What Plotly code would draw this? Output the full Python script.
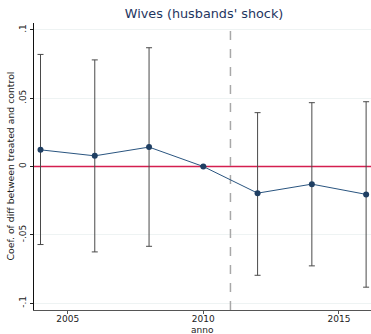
import plotly.graph_objects as go

years = [2004, 2006, 2008, 2010, 2012, 2014, 2016]
coef = [0.0122, 0.0078, 0.0142, 0.0, -0.0195, -0.0129, -0.0204]
ci_upper = [0.082, 0.078, 0.0869, 0.0, 0.0394, 0.0467, 0.0474]
ci_lower = [-0.0571, -0.0625, -0.0584, 0.0, -0.0796, -0.0727, -0.0883]
shock_year = 2011
y_ticks = [-0.1, -0.05, 0, 0.05, 0.1]
y_tick_text = ["-.1", "-.05", "0", ".05", ".1"]
x_ticks = [2005, 2010, 2015]
x_range = [2003.76, 2016.18]
y_range = [-0.105, 0.105]

err_plus = [u - c for u, c in zip(ci_upper, coef)]
err_minus = [c - l for c, l in zip(coef, ci_lower)]

fig = go.Figure()

# zero reference line
fig.add_trace(go.Scatter(
    x=x_range, y=[0, 0], mode="lines",
    line=dict(color="#d41f4f", width=1.3), hoverinfo="skip", showlegend=False,
))
# treatment onset
fig.add_trace(go.Scatter(
    x=[shock_year, shock_year], y=y_range, mode="lines",
    line=dict(color="#a8a8a8", width=1.5, dash="dash"), hoverinfo="skip", showlegend=False,
))

fig.add_trace(go.Scatter(
    x=years, y=coef, mode="lines+markers",
    line=dict(color="#2a5580", width=1),
    marker=dict(color="#1f3f63", size=6),
    error_y=dict(type="data", symmetric=False, array=err_plus, arrayminus=err_minus,
                 color="#4a4a4a", thickness=1, width=3),
    showlegend=False,
))

fig.update_layout(
    width=371, height=334,
    margin=dict(l=34, r=0, t=23, b=24),
    paper_bgcolor="white", plot_bgcolor="white",
    font=dict(family="DejaVu Sans", size=9, color="#222"),
    title=dict(text="Wives (husbands' shock)", x=0.55, xanchor="center", y=0.96, yanchor="middle",
               font=dict(size=12.8, color="#1e3560")),
    annotations=[
        dict(text="anno", xref="paper", yref="paper", x=0.5, y=-20 / 287,
             xanchor="center", yanchor="middle", showarrow=False, font=dict(size=9)),
        dict(text="Coef. of diff between treated and control", xref="paper", yref="paper",
             x=-24 / 337, y=0.5, xanchor="center", yanchor="middle", textangle=-90,
             showarrow=False, font=dict(size=9.3)),
    ],
)
fig.update_xaxes(
    range=x_range, tickvals=x_ticks, ticks="outside", ticklen=3,
    tickcolor="#555", showline=True, linecolor="#555", linewidth=1,
    showgrid=False, zeroline=False, ticklabelstandoff=-3,
    tickfont=dict(size=9),
)
fig.update_yaxes(
    range=y_range, tickvals=y_ticks, ticktext=y_tick_text, tickangle=-90,
    ticks="outside", ticklen=3, tickcolor="#222", showline=True, linecolor="#111", linewidth=1,
    showgrid=True, gridcolor="#eef3f3", gridwidth=1, zeroline=False,
    tickfont=dict(size=9),
)

fig.write_html("out.html")
